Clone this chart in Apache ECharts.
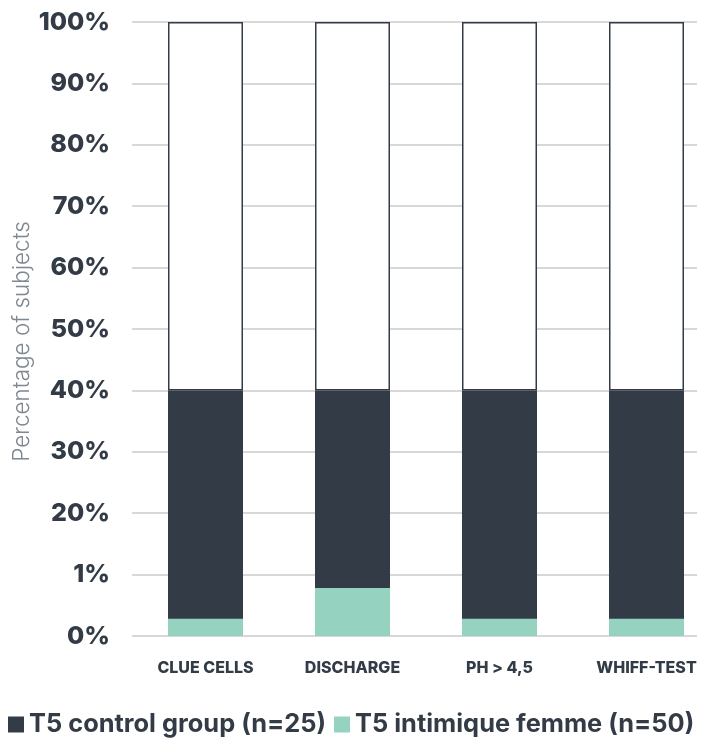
<!DOCTYPE html>
<html><head><meta charset="utf-8">
<script src="https://cdn.jsdelivr.net/npm/echarts@6/dist/echarts.min.js"></script>
<style>html,body{margin:0;padding:0;background:#fff}#c{width:704px;height:738px}</style>
</head><body><div id="c"></div>
<script>
const categories = ['CLUE CELLS', 'DISCHARGE', 'PH > 4,5', 'WHIFF-TEST'];
const controlGroup = [40, 40, 40, 40];
const intimiqueFemme = [2.8, 7.8, 2.8, 2.8];
const yTickLabels = ['0%', '1%', '20%', '30%', '40%', '50%', '60%', '70%', '80%', '90%', '100%'];
const seriesNames = ['T5 control group (n=25)', 'T5 intimique femme (n=50)'];
const yAxisTitle = 'Percentage of subjects';

const DARK = '#333c46', GREEN = '#95d3c0';
const FONT = 'Inter';
const remainder = controlGroup.map(v => 100 - v);

const chart = echarts.init(document.getElementById('c'), null, {renderer: 'canvas'});
chart.setOption({
  animation: false,
  textStyle: {fontFamily: FONT},
  grid: [
    {left: 132, right: 7, top: 22, bottom: 102, outerBoundsMode: 'none'},
    {left: 132, width: 588, top: 22, bottom: 102, outerBoundsMode: 'none'}
  ],
  legend: {
    data: seriesNames,
    left: 8, bottom: 1, padding: 0, width: 704,
    icon: 'rect', itemWidth: 16, itemHeight: 16, itemGap: 8,
    textStyle: {fontFamily: FONT, fontSize: 25.4, fontWeight: 700, color: DARK}
  },
  xAxis: [
    {type: 'category', gridIndex: 0, data: categories, show: false},
    {type: 'category', gridIndex: 1, data: categories,
      axisLine: {show: false}, axisTick: {show: false}, splitLine: {show: false},
      axisLabel: {margin: 24, fontSize: 16, fontWeight: 800, color: DARK, fontFamily: FONT}}
  ],
  yAxis: [
    {type: 'value', gridIndex: 0, min: 0, max: 100, interval: 10,
      name: yAxisTitle, nameLocation: 'middle', nameGap: 98, nameMoveOverlap: false,
      nameTextStyle: {fontSize: 22.5, fontWeight: 300, color: '#7f8890', fontFamily: FONT, padding: [0, 25, 0, 0]},
      axisLine: {show: false}, axisTick: {show: false},
      splitLine: {lineStyle: {color: '#cbcbcb', width: 1.5}},
      axisLabel: {margin: 22, fontSize: 25, fontWeight: 800, color: DARK, fontFamily: FONT,
        formatter: v => yTickLabels[Math.round(v / 10)]}},
    {type: 'value', gridIndex: 1, min: 0, max: 100, interval: 10, show: false, splitLine: {show: false}}
  ],
  series: [
    {name: seriesNames[0], type: 'bar', xAxisIndex: 1, yAxisIndex: 1, stack: 'a', data: controlGroup,
      barWidth: 75, barGap: '-100%', itemStyle: {color: DARK}},
    {name: 'rest', type: 'bar', xAxisIndex: 1, yAxisIndex: 1, stack: 'a', data: remainder, barWidth: 75,
      itemStyle: {color: '#ffffff', borderColor: DARK, borderWidth: 1.5}},
    {name: seriesNames[1], type: 'bar', xAxisIndex: 1, yAxisIndex: 1, stack: 'b', data: intimiqueFemme,
      barWidth: 75, barGap: '-100%', itemStyle: {color: GREEN}}
  ]
});
</script></body></html>
